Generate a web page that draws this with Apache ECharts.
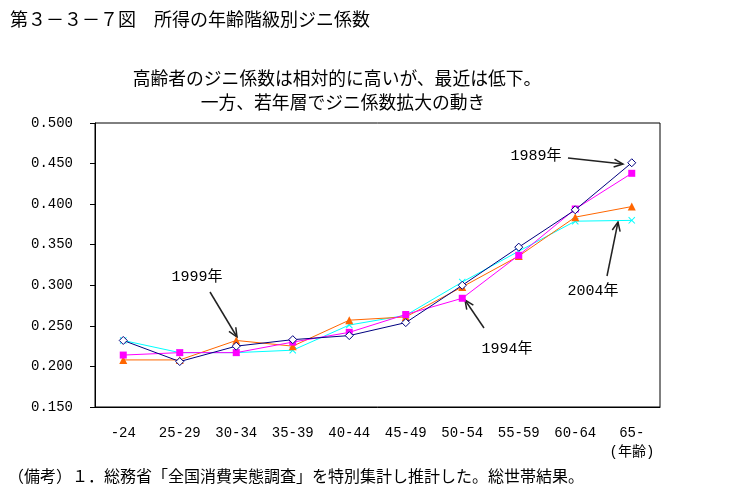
<!DOCTYPE html>
<html>
<head>
<meta charset="utf-8">
<script src="https://cdn.jsdelivr.net/npm/echarts@6/dist/echarts.min.js"></script>
<style>
html,body{margin:0;padding:0;background:#fff;}
#c{width:734px;height:498px;}
</style>
</head>
<body>
<div id="c"></div>
<script>
const categories = ['-24','25-29','30-34','35-39','40-44','45-49','50-54','55-59','60-64','65-'];
const yTicks = [0.15, 0.5, 0.05]; // min, max, interval
const s1989 = [0.232, 0.206, 0.225, 0.233, 0.238, 0.254, 0.300, 0.347, 0.393, 0.451];
const s1994 = [0.214, 0.217, 0.217, 0.230, 0.242, 0.264, 0.284, 0.337, 0.394, 0.438];
const s1999 = [0.208, 0.208, 0.232, 0.225, 0.257, 0.261, 0.298, 0.336, 0.384, 0.397];
const s2004 = [0.232, 0.217, 0.217, 0.220, 0.251, 0.263, 0.304, 0.342, 0.379, 0.380];
const seriesNames = ['1989年','1994年','1999年','2004年'];

const MONO = "'Liberation Mono','Noto Sans CJK JP',monospace";
const CJK = "'Noto Sans CJK JP',sans-serif";

const xMark = 'path://M0,1L1,0L5,4L9,0L10,1L6,5L10,9L9,10L5,6L1,10L0,9L4,5Z';

function arrow(x1,y1,x2,y2){
  const dx=x2-x1, dy=y2-y1, L=Math.sqrt(dx*dx+dy*dy);
  const ux=dx/L, uy=dy/L, h=9, w=4;
  const bx=x2-ux*h, by=y2-uy*h;
  const px=-uy*w, py=ux*w;
  const st={stroke:'#222',lineWidth:1.5};
  return [
    {type:'line',shape:{x1:x1,y1:y1,x2:x2,y2:y2},style:st,silent:true},
    {type:'polyline',shape:{points:[[bx+px,by+py],[x2,y2],[bx-px,by-py]]},style:Object.assign({fill:null},st),silent:true}
  ];
}
function label(txt,cx,cy){
  return {type:'text',x:cx,y:cy,style:{text:txt,font:"15px "+MONO,fill:'#000',align:'center',verticalAlign:'middle'},silent:true};
}

const chart = echarts.init(document.getElementById('c'));
const graphics = [
  {type:'text',left:10,top:10,style:{text:'第３－３－７図　所得の年齢階級別ジニ係数',font:"18px "+CJK,fill:'#000'}},
  {type:'text',x:337,y:78,style:{text:'高齢者のジニ係数は相対的に高いが、最近は低下。',font:"17.8px "+CJK,fill:'#000',align:'center',verticalAlign:'middle'}},
  {type:'text',x:343,y:102,style:{text:'一方、若年層でジニ係数拡大の動き',font:"17.8px "+CJK,fill:'#000',align:'center',verticalAlign:'middle'}},
  {type:'text',x:632,y:452,style:{text:'(年齢)',font:"14px "+MONO,fill:'#000',align:'center',verticalAlign:'middle'}},
  {type:'text',left:8,top:468,style:{text:'（備考）１．総務省「全国消費実態調査」を特別集計し推計した。総世帯結果。',font:"16px "+CJK,fill:'#000'}},
  label('1989年',536,156), label('1999年',197,277), label('1994年',507,349), label('2004年',593,291)
].concat(arrow(568,158,623,164), arrow(210,292,237,337), arrow(484,328,465,300), arrow(607,276,618,222));

chart.setOption({
  animation:false,
  backgroundColor:'#fff',
  grid:{left:95,top:123,width:565,height:284,show:true,borderColor:'#000',borderWidth:1,backgroundColor:'transparent'},
  xAxis:{type:'category',data:categories,boundaryGap:true,
    axisLine:{lineStyle:{color:'#000',width:1}},
    axisTick:{inside:true,length:4,lineStyle:{color:'#000'}},
    axisLabel:{color:'#000',fontFamily:MONO,fontSize:14,margin:19,interval:0},
    splitLine:{show:false}},
  yAxis:{type:'value',min:yTicks[0],max:yTicks[1],interval:yTicks[2],
    axisLine:{show:true,lineStyle:{color:'#000',width:1}},
    axisTick:{show:true,length:5,lineStyle:{color:'#000'}},
    axisLabel:{color:'#000',fontFamily:MONO,fontSize:14,margin:22,formatter:v=>v.toFixed(3)},
    splitLine:{show:false}},
  graphic:graphics,
  series:[
    {name:seriesNames[3],type:'line',data:s2004,symbol:xMark,symbolSize:7,lineStyle:{color:'#00FFFF',width:1},itemStyle:{color:'#00FFFF'},z:2},
    {name:seriesNames[2],type:'line',data:s1999,symbol:'triangle',symbolSize:8,lineStyle:{color:'#FF6600',width:1},itemStyle:{color:'#FF6600'},z:3},
    {name:seriesNames[1],type:'line',data:s1994,symbol:'rect',symbolSize:7,lineStyle:{color:'#FF00FF',width:1},itemStyle:{color:'#FF00FF'},z:4},
    {name:seriesNames[0],type:'line',data:s1989,symbol:'diamond',symbolSize:8,lineStyle:{color:'#000080',width:1},itemStyle:{color:'#fff',borderColor:'#000080',borderWidth:1},z:5}
  ]
});
</script>
</body>
</html>
